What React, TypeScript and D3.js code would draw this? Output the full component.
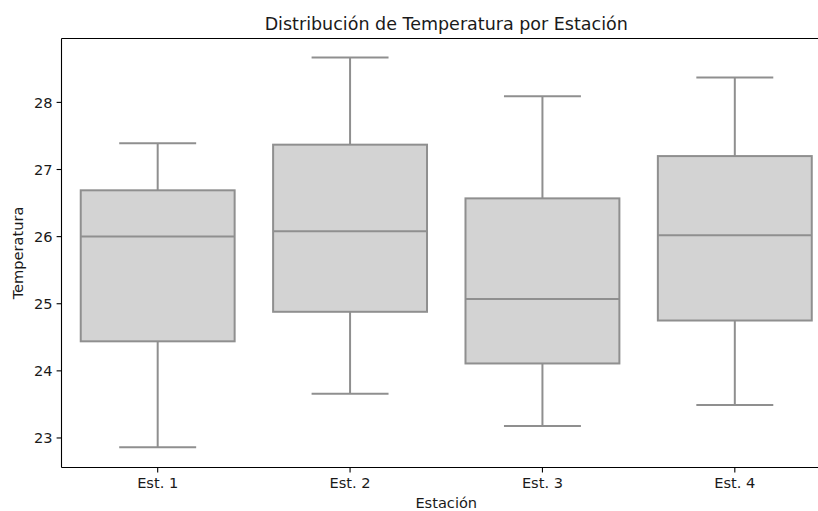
import React from "react";
import * as d3 from "d3";

const categories = ["Est. 1", "Est. 2", "Est. 3", "Est. 4"];
const whiskerLow = [22.86, 23.66, 23.18, 23.49];
const q1 = [24.44, 24.88, 24.11, 24.75];
const median = [26.0, 26.08, 25.07, 26.02];
const q3 = [26.69, 27.37, 26.57, 27.2];
const whiskerHigh = [27.39, 28.67, 28.09, 28.37];
const yTicks = [23, 24, 25, 26, 27, 28];

const W = 818;
const H = 511;
const left = 61.5;
const right = 831;
const top = 38.5;
const bottom = 467.5;

export default function App() {
  const x = d3.scaleBand<string>().domain(categories).range([left, right]).paddingInner(0).paddingOuter(0);
  const y = d3.scaleLinear().domain([22.56, 28.952]).range([bottom, top]);
  const bw = x.bandwidth();
  const boxW = bw * 0.8;
  const capW = bw * 0.4;
  const lineColor = "#8f8f8f";
  const font = "DejaVu Sans";
  const txt = "#1a1a1a";
  return (
    <svg width={W} height={H} viewBox={`0 0 ${W} ${H}`} style={{ position: "absolute", left: 0, top: 0, overflow: "hidden", background: "#fff" }} fontFamily={font}>
      <rect x={0} y={0} width={W} height={H} fill="#fff" />
      {categories.map((c, i) => {
        const cx = (x(c) as number) + bw / 2;
        return (
          <g key={c}>
            <line x1={cx} x2={cx} y1={y(q3[i])} y2={y(whiskerHigh[i])} stroke={lineColor} strokeWidth={2} />
            <line x1={cx} x2={cx} y1={y(q1[i])} y2={y(whiskerLow[i])} stroke={lineColor} strokeWidth={2} />
            <line x1={cx - capW / 2} x2={cx + capW / 2} y1={y(whiskerHigh[i])} y2={y(whiskerHigh[i])} stroke={lineColor} strokeWidth={2} />
            <line x1={cx - capW / 2} x2={cx + capW / 2} y1={y(whiskerLow[i])} y2={y(whiskerLow[i])} stroke={lineColor} strokeWidth={2} />
            <rect x={cx - boxW / 2} y={y(q3[i])} width={boxW} height={y(q1[i]) - y(q3[i])} fill="#d3d3d3" stroke={lineColor} strokeWidth={2} />
            <line x1={cx - boxW / 2} x2={cx + boxW / 2} y1={y(median[i])} y2={y(median[i])} stroke={lineColor} strokeWidth={2} />
          </g>
        );
      })}
      {/* spines (right spine lies beyond the visible width) */}
      <line x1={left} x2={left} y1={top} y2={bottom} stroke="#000" strokeWidth={1.1} />
      <line x1={left} x2={W} y1={top} y2={top} stroke="#000" strokeWidth={1.1} />
      <line x1={left} x2={W} y1={bottom} y2={bottom} stroke="#000" strokeWidth={1.1} />
      {yTicks.map((t) => (
        <g key={t}>
          <line x1={left - 4.9} x2={left} y1={y(t)} y2={y(t)} stroke="#000" strokeWidth={1.1} />
          <text x={left - 9} y={y(t)} dy="0.36em" textAnchor="end" fontSize={14.6} fill={txt}>{t}</text>
        </g>
      ))}
      {categories.map((c) => {
        const cx = (x(c) as number) + bw / 2;
        return (
          <g key={c}>
            <line x1={cx} x2={cx} y1={bottom} y2={bottom + 4.9} stroke="#000" strokeWidth={1.1} />
            <text x={cx} y={488} textAnchor="middle" fontSize={14.6} fill={txt}>{c}</text>
          </g>
        );
      })}
      <text x={(left + right) / 2} y={508} textAnchor="middle" fontSize={14.6} fill={txt}>Estación</text>
      <text transform={`translate(23,${(top + bottom) / 2}) rotate(-90)`} textAnchor="middle" fontSize={14.6} fill={txt}>Temperatura</text>
      <text x={(left + right) / 2} y={30} textAnchor="middle" fontSize={17.5} fill={txt}>Distribución de Temperatura por Estación</text>
    </svg>
  );
}
